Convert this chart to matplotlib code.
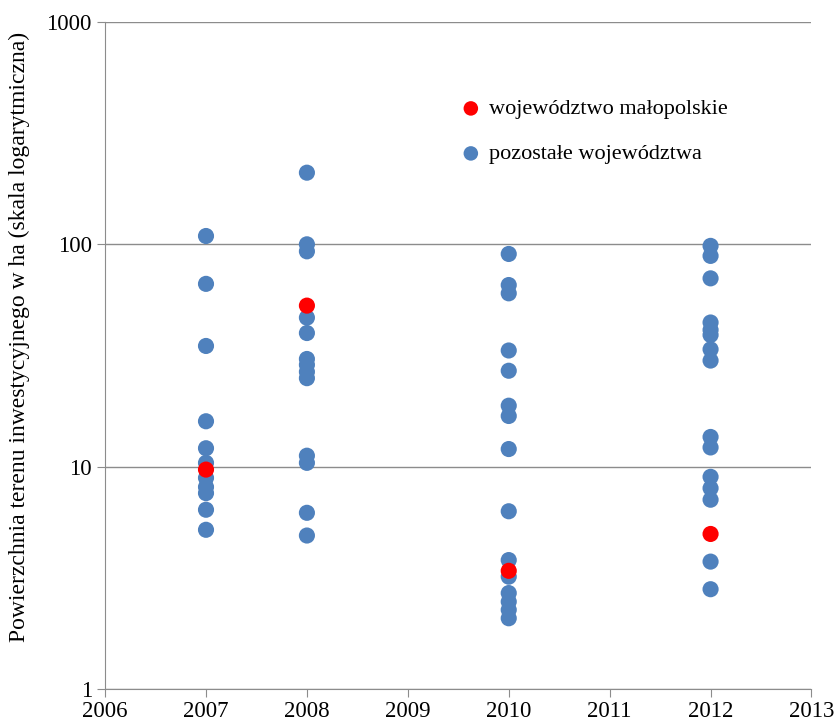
import matplotlib.pyplot as plt
import numpy as np

plt.rcParams["font.family"] = ["Liberation Serif", "DejaVu Serif"]

# investment land area per voivodeship (ha), by year
years = [2007, 2008, 2010, 2012]
others = {
    2007: [109, 66.4, 34.9, 16.0, 12.1, 10.4, 8.9, 8.1, 7.6, 6.4, 5.2],
    2008: [210, 100, 93, 46.8, 39.9, 30.5, 28.7, 26.7, 25.0, 11.2, 10.4, 6.2, 4.9],
    2010: [90.5, 65.6, 60.2, 33.3, 27.0, 18.8, 16.9, 12.0, 6.3, 3.8, 3.2, 2.7,
           2.47, 2.27, 2.08],
    2012: [98.4, 88.7, 70.3, 44.5, 41.2, 39.1, 33.7, 30.0, 13.6, 12.2, 9.0, 8.0,
           7.1, 3.74, 2.81],
}
malopolskie = [9.7, 53, 3.4, 4.98]

BLUE = "#4f81bd"
RED = "#ff0000"

fig = plt.figure(figsize=(8.34, 7.26), dpi=100)
ax = fig.add_axes([0.126, 0.051, 0.847, 0.9187])

for yr in years:
    vals = others[yr]
    ax.scatter([yr] * len(vals), vals, s=135, color=BLUE, edgecolors="none",
               zorder=3, label="pozostałe województwa" if yr == years[0] else None)
ax.scatter(years, malopolskie, s=135, color=RED, edgecolors="none", zorder=4,
           label="województwo małopolskie")

ax.set_yscale("log")
ax.set_ylim(1, 1000)
ax.set_xlim(2006, 2013)
ax.set_xticks(np.arange(2006, 2014))
ax.set_yticks([1, 10, 100, 1000])
ax.set_yticklabels(["1", "10", "100", "1000"])
ax.minorticks_off()
ax.yaxis.grid(True, color="#8c8c8c", lw=1)
ax.set_axisbelow(True)

for side in ("top", "right"):
    ax.spines[side].set_visible(False)
for side in ("left", "bottom"):
    ax.spines[side].set_color("#8c8c8c")
ax.tick_params(axis="both", colors="#8c8c8c", labelcolor="black",
               labelsize=16.5, length=6, direction="out")
ax.tick_params(axis="x", pad=3)

ax.set_ylabel("Powierzchnia terenu inwestycyjnego w ha (skala logarytmiczna)",
              fontsize=17)
ax.yaxis.set_label_coords(-0.106, 0.528)

handles, labels = ax.get_legend_handles_labels()
ax.legend(handles[::-1], labels[::-1], loc="upper left",
          bbox_to_anchor=(0.458, 0.915), frameon=False, fontsize=16,
          handletextpad=-0.2, labelspacing=1.1, markerscale=0.9)

fig.savefig("out.png", dpi=100)
